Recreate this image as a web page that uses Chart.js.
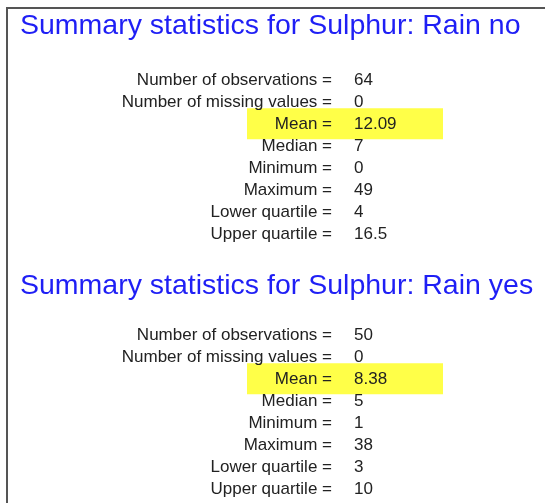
<!DOCTYPE html>
<html>
<head>
<meta charset="utf-8">
<script src="https://cdn.jsdelivr.net/npm/chart.js@4"></script>
<style>
body{margin:0;background:#fff;width:545px;height:503px;overflow:hidden;position:relative}
#frame{position:absolute;left:6px;top:7px;right:0;bottom:0;border-top:2px solid #555;border-left:2px solid #555}
.box{position:absolute;left:0;width:545px;height:269px}
</style>
</head>
<body>
<div id="frame"></div>
<div class="box" style="top:0"><canvas id="rainNo"></canvas></div>
<div class="box" style="top:255px"><canvas id="rainYes"></canvas></div>
<script>
// summary stats for sulphur, split by rain
var statLabels = ["Number of observations", "Number of missing values", "Mean", "Median",
                  "Minimum", "Maximum", "Lower quartile", "Upper quartile"];
var rainNoValues = [64, 0, 12.09, 7, 0, 49, 4, 16.5];
var rainYesValues = [50, 0, 8.38, 5, 1, 38, 3, 10];
var highlightStat = "Mean";

var fontFam = "'Liberation Sans', Arial, sans-serif";

// yellow band behind the highlighted row + value column text
const statsText = {
  id: 'statsText',
  beforeDraw(chart) {
    const ctx = chart.ctx, y = chart.scales.y, a = chart.chartArea;
    const i = statLabels.indexOf(highlightStat);
    const yc = y.getPixelForValue(i);
    ctx.save();
    ctx.fillStyle = '#ffff48';
    ctx.fillRect(a.left - 98, yc - 16, 196, 31);
    ctx.restore();
  },
  afterDraw(chart) {
    const ctx = chart.ctx, y = chart.scales.y, a = chart.chartArea;
    const vals = chart.data.datasets[0].data;
    ctx.save();
    ctx.font = "17px " + fontFam;
    ctx.fillStyle = '#222';
    ctx.textAlign = 'left';
    ctx.textBaseline = 'middle';
    vals.forEach(function(v, i) {
      ctx.fillText(String(v), a.left + 9, y.getPixelForValue(i));
    });
    ctx.restore();
  }
};

function makeStats(id, title, values, pad) {
  return new Chart(id, {
    type: 'bar',
    data: {
      labels: statLabels,
      datasets: [{ data: values, backgroundColor: 'rgba(0,0,0,0)' }]
    },
    options: {
      indexAxis: 'y',
      responsive: true,
      maintainAspectRatio: false,
      animation: false,
      events: [],
      layout: { padding: { left: 20, top: pad.top, right: 10, bottom: 5 } },
      plugins: {
        legend: { display: false },
        tooltip: { enabled: false },
        title: {
          display: true,
          text: title,
          align: 'start',
          color: '#1f1ff5',
          font: { family: fontFam, size: 28.5, weight: 'normal' },
          padding: { top: 0, bottom: pad.title }
        }
      },
      scales: {
        x: { display: false, min: 0, max: 60 },
        y: {
          grid: { display: false, drawTicks: false },
          border: { display: false },
          afterFit: function(scale) { scale.width = 325; },
          ticks: {
            color: '#222',
            padding: 13,
            autoSkip: false,
            font: { family: fontFam, size: 17 },
            callback: function(v, i) { return statLabels[i] + ' ='; }
          }
        }
      }
    },
    plugins: [statsText]
  });
}

makeStats('rainNo', 'Summary statistics for Sulphur: Rain no', rainNoValues, { top: 9, title: 25.8 });
makeStats('rainYes', 'Summary statistics for Sulphur: Rain yes', rainYesValues, { top: 14, title: 20.8 });
</script>
</body>
</html>
